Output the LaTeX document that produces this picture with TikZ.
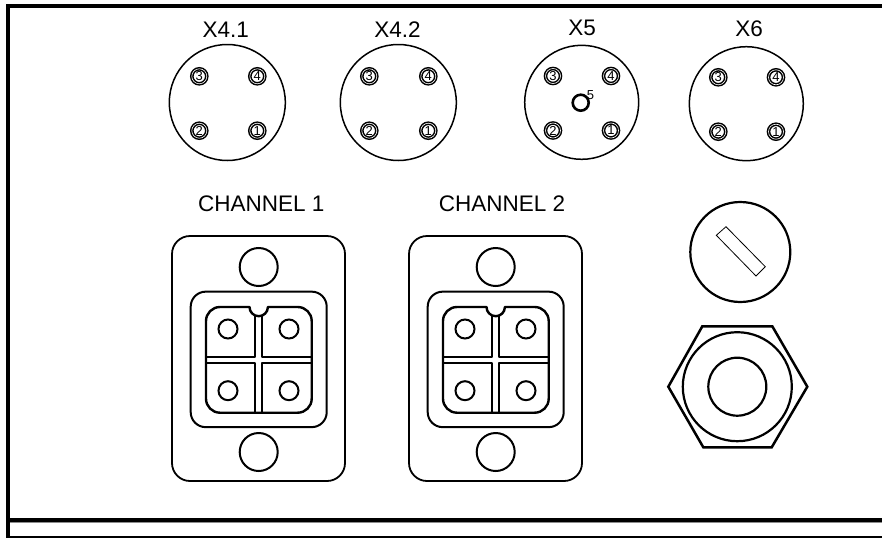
\documentclass[tikz,border=0pt]{standalone}
\usepackage{fontspec}
\setmainfont{Liberation Sans}
\tikzset{
  x=1pt,y=-1pt,
  title/.style={inner sep=0pt,font=\fontsize{22.5}{24}\selectfont},
  body/.style={draw,circle,inner sep=0pt,line width=1.5pt,minimum size=#1},
  pinring/.style={draw,circle,inner sep=0pt,line width=1.5pt,minimum size=15pt,double=white,double distance=0.6pt,font=\fontsize{13}{13}\selectfont},
  hole/.style={draw,circle,inner sep=0pt,line width=2pt,minimum size=#1},
  plate/.style={draw,rectangle,inner sep=0pt,line width=1.8pt},
  heavy/.style={line width=2.4pt,line join=round},
  slot/.style={draw,line width=0.8pt},
  rule/.style={fill=black,draw=none}
}
\begin{document}
\begin{tikzpicture}
\useasboundingbox (0,0) rectangle (882,538);
% frame
\fill[rule] (6,4) rectangle (882,8);
\fill[rule] (6,4) rectangle (10,538);
\fill[rule] (10,518) rectangle (882,522);
\fill[black!45] (10,522) rectangle (882,523);
\fill[rule] (10,536) rectangle (882,538);
% round plugs
\foreach \nm/\lab/\lx/\ly/\cx/\cy/\rr/\xa/\xb/\ya/\yb in {
  a/X4.1/225.7/29.5/227.3/102.5/116/199.3/257.3/76.3/130.7,
  b/X4.2/397.5/29.5/398.3/102.5/116/369.3/428.3/76.3/130.7,
  c/X5/582/27.5/581.7/102.3/114/553/611/76/130.5,
  d/X6/749/28.5/746.3/103.7/114/718.3/776/77.3/131.7}{
  \node[title] (t\nm) at (\lx,\ly) {\lab};
  \node[body=\rr pt] (p\nm) at (\cx,\cy) {};
  \node[pinring] (p\nm3) at (\xa,\ya) {3};
  \node[pinring] (p\nm4) at (\xb,\ya) {4};
  \node[pinring] (p\nm2) at (\xa,\yb) {2};
  \node[pinring] (p\nm1) at (\xb,\yb) {1};
}
\node[draw,circle,inner sep=0pt,line width=2.6pt,minimum size=16pt] (pc5) at (580.7,102.7) {};
\node[inner sep=0pt,font=\fontsize{13}{13}\selectfont] (pc5t) at (590.5,95) {5};
% channels
\foreach \n/\dx/\lab/\lx in {e/0/CHANNEL 1/261.3,f/237/CHANNEL 2/502}{
  \node[title] (t\n) at (\lx,203.5) {\lab};
  \begin{scope}[xshift=\dx pt]
    \node[plate,rounded corners=18pt,minimum width=173pt,minimum height=245pt] (pl\n) at (258.5,358.5) {};
    \node[hole=38pt] (ht\n) at (258.7,267) {};
    \node[hole=38pt] (hb\n) at (258.7,452) {};
    \node[plate,line width=2pt,rounded corners=15pt,minimum width=136pt,minimum height=135.5pt] (in\n) at (258.7,359.4) {};
    \draw[heavy] (249.5,307) arc[start angle=180,end angle=360,x radius=9.2,y radius=-9.2]
       -- (297.7,307) arc[start angle=90,end angle=0,x radius=14,y radius=-14]
       -- (311.7,398.7) arc[start angle=0,end angle=-90,x radius=14,y radius=-14]
       -- (220,412.7) arc[start angle=-90,end angle=-180,x radius=14,y radius=-14]
       -- (206,321) arc[start angle=180,end angle=90,x radius=14,y radius=-14] -- cycle;
    \draw[heavy] (255,316) -- (255,356.7) -- (206,356.7);
    \draw[heavy] (261.7,316) -- (261.7,356.7) -- (311.7,356.7);
    \draw[heavy] (206,362.7) -- (255,362.7) -- (255,412.7);
    \draw[heavy] (311.7,362.7) -- (261.7,362.7) -- (261.7,412.7);
    \node[hole=19pt] (c1\n) at (228,329) {};
    \node[hole=19pt] (c2\n) at (289,329) {};
    \node[hole=19pt] (c3\n) at (228,390.7) {};
    \node[hole=19pt] (c4\n) at (289,390.7) {};
  \end{scope}
}
% screw
\node[draw,circle,inner sep=0pt,line width=2.2pt,minimum size=100pt] (screw) at (740.3,252) {};
\draw[slot] (726,226.7) -- (716.3,235.3) -- (756,276) -- (765.3,266.7) -- cycle;
% gland
\draw[line width=2.5pt,line join=miter] (702.3,326.3) -- (772.3,326.3) -- (807.3,386.7) -- (771.7,447.3) -- (703.3,447.3) -- (668.3,386.7) -- cycle;
\node[draw,circle,inner sep=0pt,line width=2.2pt,minimum size=109pt] (gout) at (737.3,386.7) {};
\node[draw,circle,inner sep=0pt,line width=2.2pt,minimum size=58pt] (gin) at (737.3,386.7) {};
\end{tikzpicture}
\end{document}
